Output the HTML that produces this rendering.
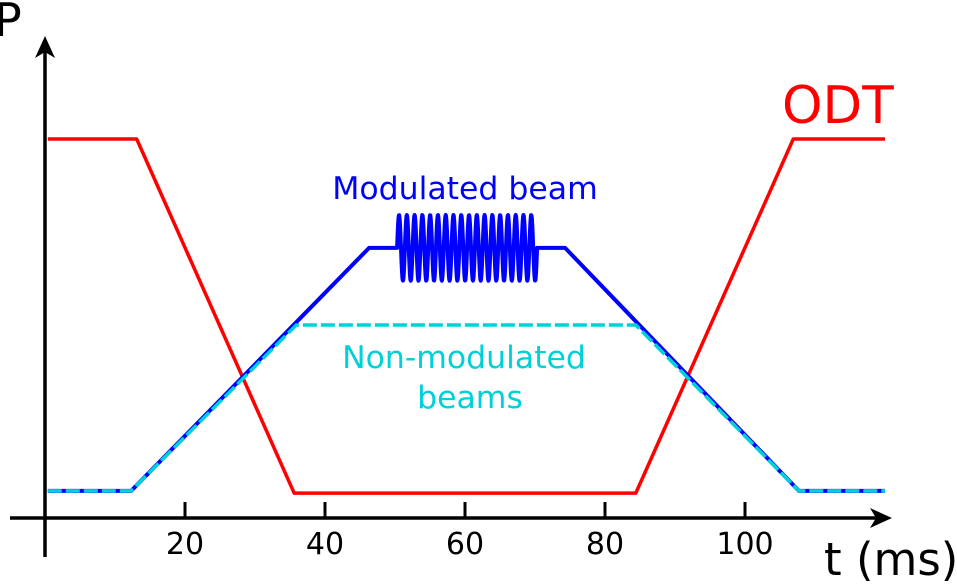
<!DOCTYPE html>
<html><head><meta charset="utf-8"><style>
body{margin:0;background:#fff;width:957px;height:581px;overflow:hidden}
text{font-family:"DejaVu Sans","Liberation Sans",sans-serif}
</style></head><body>
<svg id="chart" width="957" height="581" viewBox="0 0 957 581" xmlns="http://www.w3.org/2000/svg">
<g id="series"></g>
<g id="axes">
<line x1="10" y1="518" x2="878" y2="518" stroke="#000" stroke-width="3.5"/>
<polygon points="892,518 870,508 876,518 870,528" fill="#000"/>
<line x1="45" y1="557" x2="45" y2="50" stroke="#000" stroke-width="3.5"/>
<polygon points="45,36 35,58 45,52 55,58" fill="#000"/>
<g id="ticks"></g>
<text x="-6" y="36" font-size="46">P</text>
<text x="824" y="575" font-size="45">t (ms)</text>
</g>
<text x="782" y="123" font-size="51.5" fill="#f00">ODT</text>
<text x="465" y="199" font-size="31.5" fill="#00f" text-anchor="middle">Modulated beam</text>
<text x="464" y="368" font-size="31.5" fill="#00d0d8" text-anchor="middle">Non-modulated</text>
<text x="470" y="408" font-size="31.5" fill="#00d0d8" text-anchor="middle">beams</text>
</svg>
<script>
const xTicks=[20,40,60,80,100];
const odtT=[0.4,13.1,35.6,84.4,106.9,120];
const odtP=[100,100,6.3,6.3,100,100];
const modT=[0.4,12.3,46.3,50.3,70.3,74.3,107.7,120];
const modP=[6.9,6.9,71.2,71.2,71.2,71.2,6.9,6.9];
const oscStart=50.3, oscEnd=70.3, oscCycles=18, oscAmp=8.7;
const nonT=[0.4,12.3,35.9,84.4,107.7,120];
const nonP=[6.9,6.9,50.8,50.8,6.9,6.9];
const NS='http://www.w3.org/2000/svg';
const X=t=>45+7*t, Y=p=>517-3.78*p;
const series=document.getElementById('series');
function path(d,stroke,name,extra,w){
 const el=document.createElementNS(NS,'path');
 el.setAttribute('d',d);el.setAttribute('fill','none');el.setAttribute('stroke',stroke);
 el.setAttribute('stroke-width',w||'3.5');el.setAttribute('stroke-linejoin','round');
 if(extra)el.setAttribute('stroke-dasharray',extra);
 
 
 series.appendChild(el);
}
function poly(ts,ps){return ts.map((t,i)=>(i?'L':'M')+X(t)+','+Y(ps[i])).join(' ');}
path(poly(odtT,odtP),'#f00','odt-line');
let d='';
for(let i=0;i<modT.length;i++){
 d+=(i?'L':'M')+X(modT[i])+','+Y(modP[i])+' ';
 if(modT[i]===oscStart){
  const x0=X(oscStart),x1=X(oscEnd),n=400;
  for(let k=0;k<=n;k++){const x=x0+(x1-x0)*k/n;
   d+='L'+x.toFixed(2)+','+(Y(modP[i])-3.78*oscAmp*Math.sin(2*Math.PI*oscCycles*k/n)).toFixed(2)+' ';}
 }
}
path(d,'#00f','modulated-beam-line',null,'4');
path(poly(nonT,nonP),'#00d0d8','non-modulated-beams-line','14 4');
const ticks=document.getElementById('ticks');
xTicks.forEach(v=>{
 const l=document.createElementNS(NS,'line');
 l.setAttribute('x1',X(v));l.setAttribute('x2',X(v));l.setAttribute('y1',502);l.setAttribute('y2',518);
 l.setAttribute('stroke','#000');l.setAttribute('stroke-width','3');
 
 
 ticks.appendChild(l);
 const t=document.createElementNS(NS,'text');
 t.setAttribute('x',X(v));t.setAttribute('y',554);t.setAttribute('font-size','30');t.setAttribute('text-anchor','middle');
 t.textContent=v;
 
 
 ticks.appendChild(t);
});
</script>
</body></html>
